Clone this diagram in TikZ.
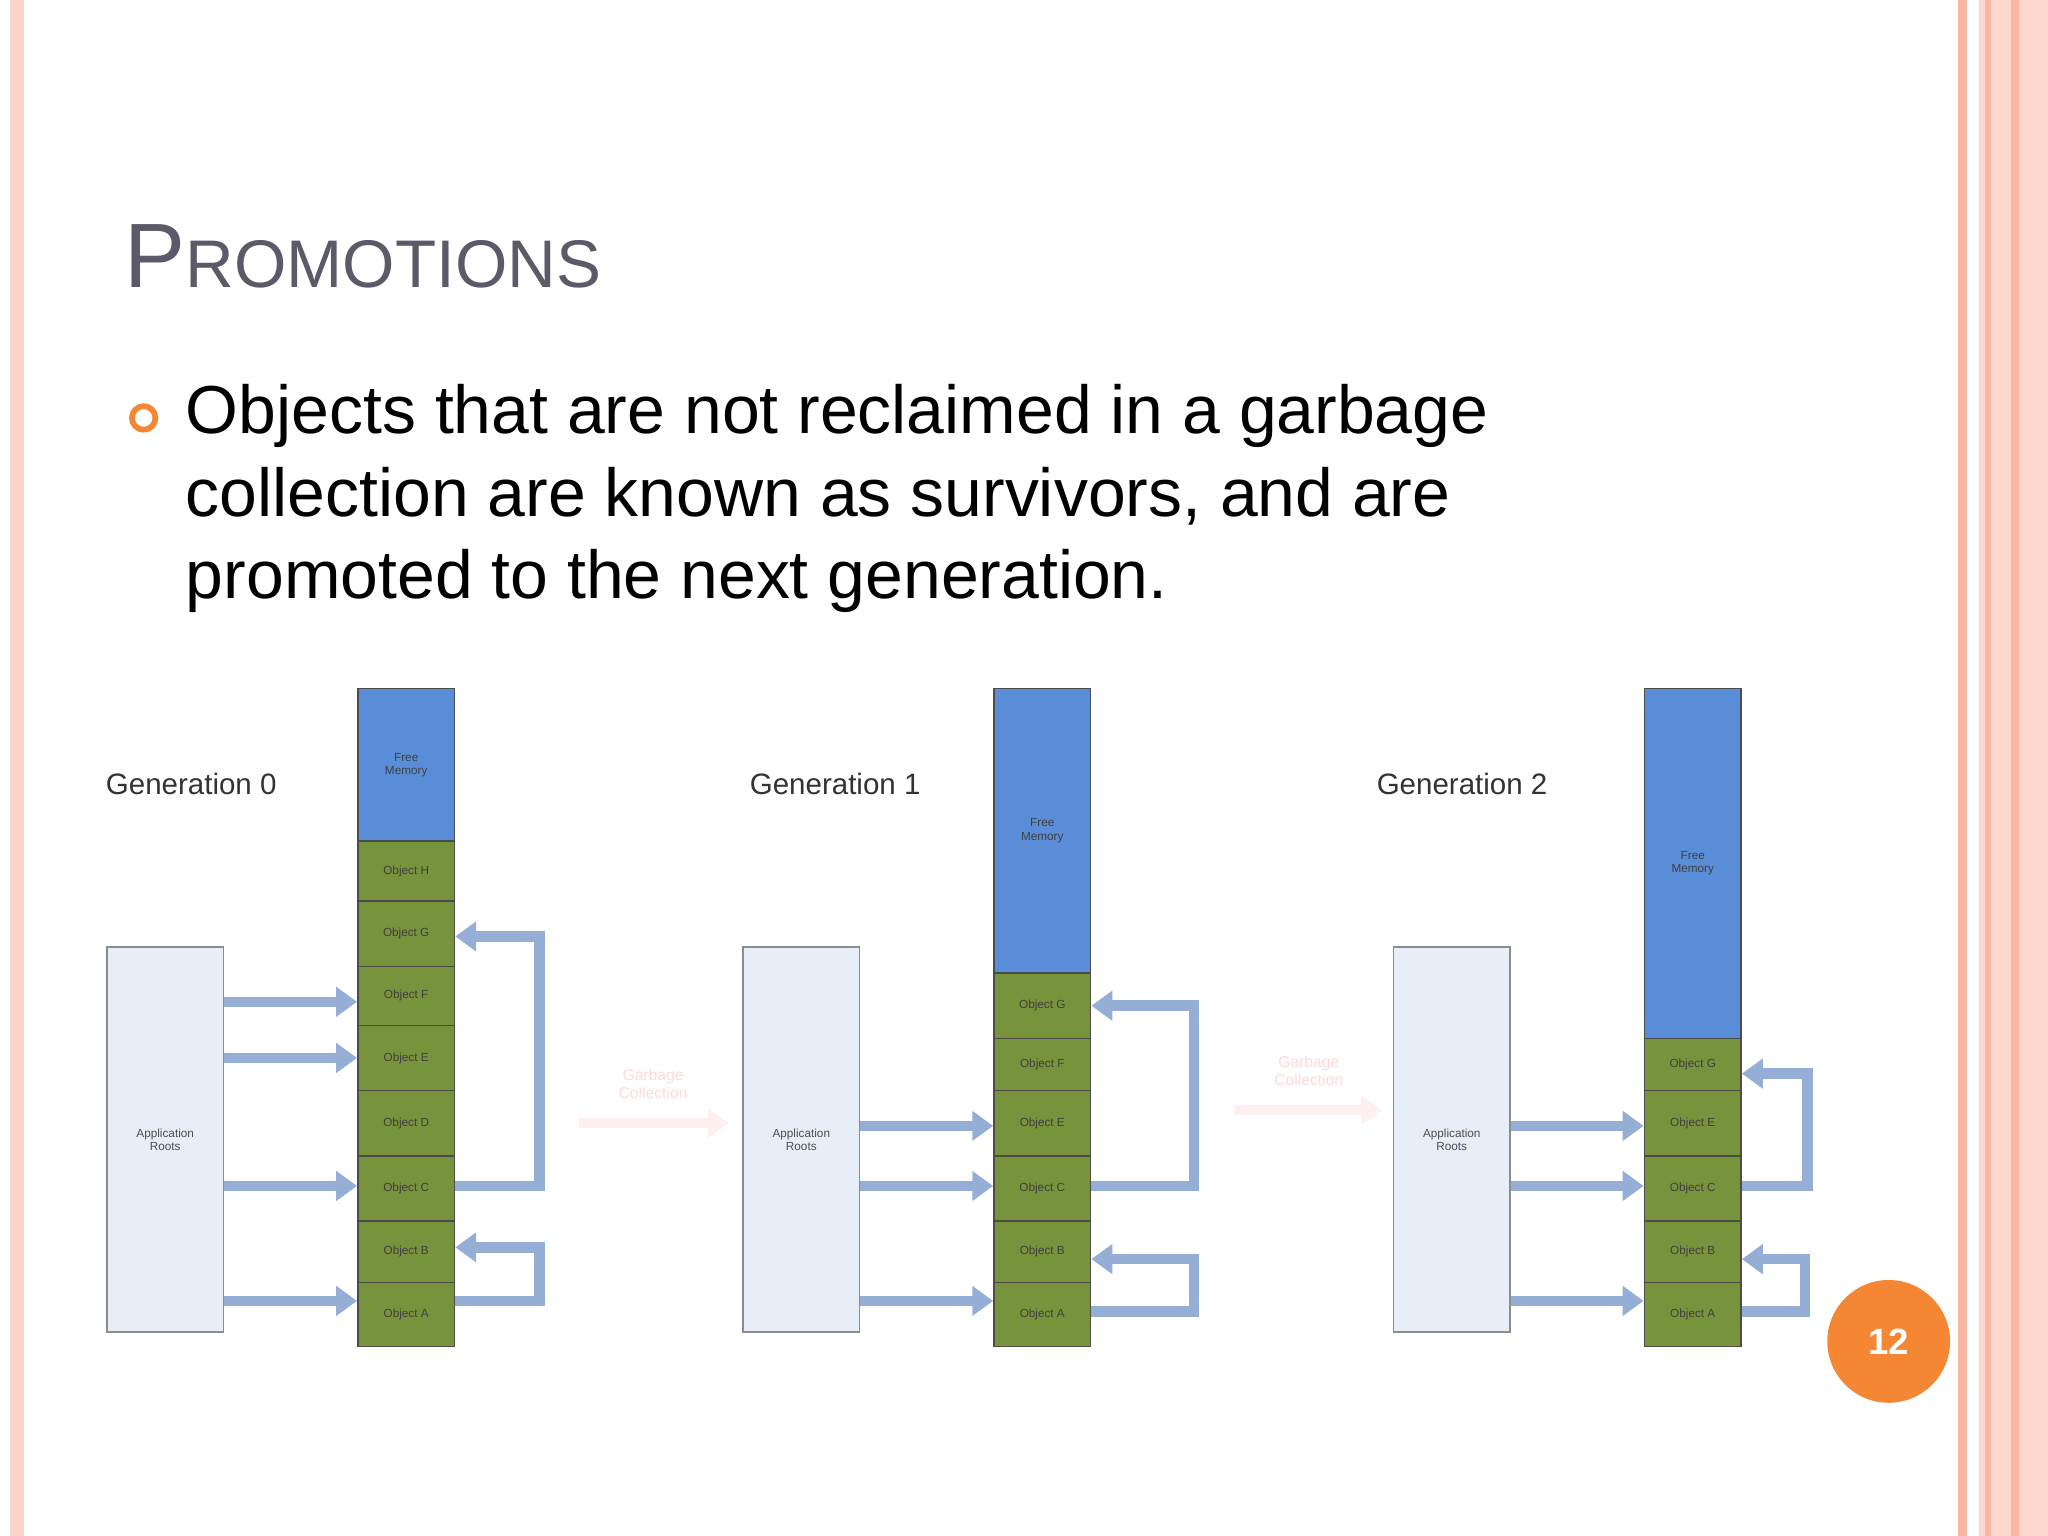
\documentclass[tikz,border=0pt]{standalone}
\usepackage{fontspec}
\setmainfont{Liberation Sans}
\usetikzlibrary{arrows.meta}
\definecolor{free}{HTML}{5A8DD8}
\definecolor{objg}{HTML}{77933C}
\definecolor{arr}{HTML}{94AED6}
\definecolor{roots}{HTML}{E8EEF8}
\definecolor{pinkb}{HTML}{F7B7A3}
\definecolor{titlec}{HTML}{5A5A68}
\definecolor{orng}{HTML}{F58634}
\tikzset{
 colbox/.style={draw=black!70, line width=0.6pt, inner sep=0pt, minimum width=37pt, font=\fontsize{4.5}{5}\selectfont, text=black!75, align=center},
 fm/.style={colbox, fill=free},
 ob/.style={colbox, fill=objg},
 rootbox/.style={draw=black!45, fill=roots, line width=0.6pt, minimum width=44.5pt, minimum height=147.5pt, inner sep=0pt, font=\fontsize{4.5}{5}\selectfont, text=black!70, align=center},
 bar/.style={draw=arr, line width=4pt, -{Triangle[width=11pt,length=8pt]}},
 gc/.style={draw=red!6, line width=4pt, -{Triangle[width=11pt,length=8pt]}},
 gclab/.style={font=\fontsize{6}{7}\selectfont, text=red!15, align=center},
 gen/.style={font=\fontsize{11.3}{12}\selectfont, text=black!80, anchor=west},
}
\begin{document}
\begin{tikzpicture}[x=0.5pt,y=-0.5pt]
\useasboundingbox (0,0) rectangle (1568,1176);
\fill[white] (0,0) rectangle (1568,1176);
% borders
\fill[pinkb!60] (8,0) rectangle (18,1176);
\fill[pinkb] (1499,0) rectangle (1506,1176);
\fill[pinkb!55] (1515,0) rectangle (1568,1176);
\fill[pinkb] (1520,0) rectangle (1524,1176);
\fill[pinkb] (1540,0) rectangle (1546,1176);
% title
\node[anchor=base west, inner sep=0pt, text=titlec] (title) at (95,220) {{\fontsize{35}{40}\selectfont P}{\fontsize{25.8}{30}\selectfont ROMOTIONS}};
\node[draw=orng, line width=2.2pt, circle, minimum size=9pt, inner sep=0pt] (bul) at (110,320) {};
\node[anchor=north west, inner sep=0pt, align=left, font=\fontsize{26}{31.5}\selectfont, text=black] (body) at (142,294) {Objects that are not reclaimed in a garbage\\collection are known as survivors, and are\\promoted to the next generation.};
% ===== Gen 0
\node[gen] (g0) at (74,600) {Generation 0};
\node[fm, minimum height=58.5pt] (a0) at (311,585.5) {Free\\Memory};
\node[ob, minimum height=23pt] (aH) at (311,667) {Object H};
\node[ob, minimum height=25pt] (aG) at (311,715) {Object G};
\node[ob, minimum height=22.5pt] (aF) at (311,762.5) {Object F};
\node[ob, minimum height=25pt] (aE) at (311,810) {Object E};
\node[ob, minimum height=25pt] (aD) at (311,860) {Object D};
\node[ob, minimum height=25pt] (aC) at (311,910) {Object C};
\node[ob, minimum height=23.5pt] (aB) at (311,958.5) {Object B};
\node[ob, minimum height=24.5pt] (aA) at (311,1006.5) {Object A};
\node[rootbox] (r0) at (126.5,872.5) {Application\\Roots};
\draw[bar] (r0.east |- 0,767) -- (aF.west |- 0,767);
\draw[bar] (r0.east |- 0,810) -- (aE.west |- 0,810);
\draw[bar] (r0.east |- 0,908) -- (aC.west |- 0,908);
\draw[bar] (r0.east |- 0,996) -- (aA.west |- 0,996);
\draw[bar] (aC.east |- 0,908) -- (413,908) -- (413,717) -- (aG.east |- 0,717);
\draw[bar] (aA.east |- 0,996) -- (413,996) -- (413,955) -- (aB.east |- 0,955);
% GC 1
\node[gclab] (gl1) at (500,830) {Garbage\\Collection};
\coordinate (gs1) at (443,860); \coordinate (ge1) at (558,860);
\draw[gc] (gs1) -- (ge1);
% ===== Gen 1
\node[gen] (g1) at (567,600) {Generation 1};
\node[fm, minimum height=109pt] (b0) at (798,636) {Free\\Memory};
\node[ob, minimum height=25pt] (bG) at (798,770) {Object G};
\node[ob, minimum height=20pt] (bF) at (798,815) {Object F};
\node[ob, minimum height=25pt] (bE) at (798,860) {Object E};
\node[ob, minimum height=25pt] (bC) at (798,910) {Object C};
\node[ob, minimum height=23.5pt] (bB) at (798,958.5) {Object B};
\node[ob, minimum height=24.5pt] (bA) at (798,1006.5) {Object A};
\node[rootbox] (r1) at (613.5,872.5) {Application\\Roots};
\draw[bar] (r1.east |- 0,862) -- (bE.west |- 0,862);
\draw[bar] (r1.east |- 0,908) -- (bC.west |- 0,908);
\draw[bar] (r1.east |- 0,996) -- (bA.west |- 0,996);
\draw[bar] (bC.east |- 0,908) -- (914,908) -- (914,770) -- (bG.east |- 0,770);
\draw[bar] (bA.east |- 0,1004) -- (914,1004) -- (914,964) -- (bB.east |- 0,964);
% GC 2
\node[gclab] (gl2) at (1002,820) {Garbage\\Collection};
\coordinate (gs2) at (945,850); \coordinate (ge2) at (1058,850);
\draw[gc] (gs2) -- (ge2);
% ===== Gen 2
\node[gen] (g2) at (1047,600) {Generation 2};
\node[fm, minimum height=134pt] (c0) at (1296,661) {Free\\Memory};
\node[ob, minimum height=20pt] (cG) at (1296,815) {Object G};
\node[ob, minimum height=25pt] (cE) at (1296,860) {Object E};
\node[ob, minimum height=25pt] (cC) at (1296,910) {Object C};
\node[ob, minimum height=23.5pt] (cB) at (1296,958.5) {Object B};
\node[ob, minimum height=24.5pt] (cA) at (1296,1006.5) {Object A};
\node[rootbox] (r2) at (1111.5,872.5) {Application\\Roots};
\draw[bar] (r2.east |- 0,862) -- (cE.west |- 0,862);
\draw[bar] (r2.east |- 0,908) -- (cC.west |- 0,908);
\draw[bar] (r2.east |- 0,996) -- (cA.west |- 0,996);
\draw[bar] (cC.east |- 0,908) -- (1384,908) -- (1384,822) -- (cG.east |- 0,822);
\draw[bar] (cA.east |- 0,1004) -- (1382,1004) -- (1382,964) -- (cB.east |- 0,964);
% page number
\node[circle, fill=orng, minimum size=47pt, inner sep=0pt, text=white, font=\bfseries\fontsize{14}{16}\selectfont] (pg) at (1446,1027) {12};
\end{tikzpicture}
\end{document}
